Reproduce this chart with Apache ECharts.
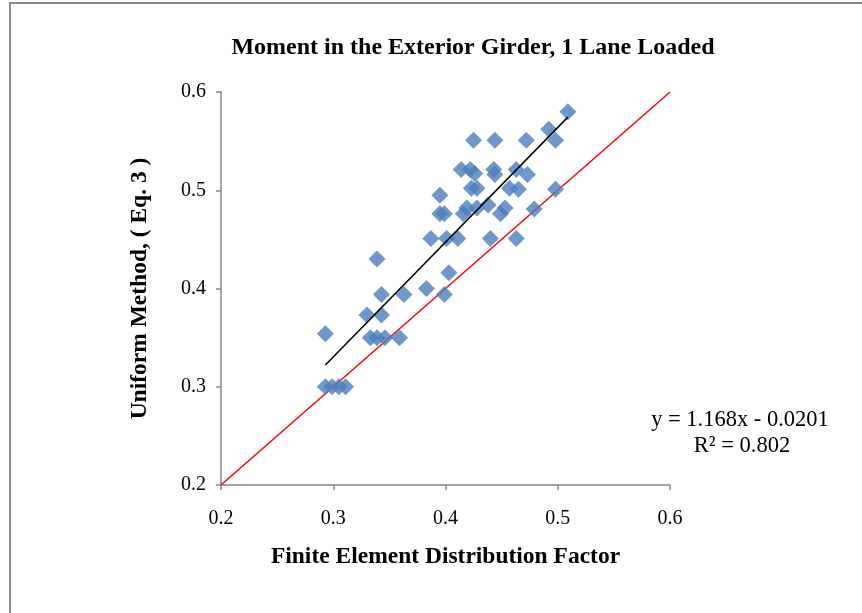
<!DOCTYPE html>
<html><head><meta charset="utf-8">
<script src="https://cdn.jsdelivr.net/npm/echarts@6/dist/echarts.min.js"></script>
<style>html,body{margin:0;padding:0;background:#fff}#c{width:862px;height:613px}</style>
</head><body><div id="c"></div>
<script>
var feValues = [0.293,0.293,0.299,0.305,0.311,0.333,0.339,0.346,0.359,0.330,0.343,0.343,0.363,0.339,0.383,0.399,0.403,0.387,0.401,0.411,0.440,0.463,0.395,0.399,0.416,0.419,0.428,0.438,0.449,0.453,0.479,0.395,0.423,0.428,0.457,0.465,0.498,0.414,0.422,0.426,0.443,0.444,0.463,0.473,0.425,0.444,0.472,0.498,0.492,0.509];
var umValues = [0.354,0.300,0.300,0.300,0.300,0.350,0.350,0.350,0.350,0.373,0.373,0.394,0.394,0.430,0.400,0.394,0.416,0.451,0.451,0.451,0.451,0.451,0.476,0.476,0.476,0.482,0.482,0.485,0.476,0.482,0.481,0.495,0.502,0.502,0.502,0.501,0.501,0.521,0.521,0.517,0.521,0.516,0.521,0.516,0.551,0.551,0.551,0.551,0.562,0.580];
var trendSlope = 1.168, trendIntercept = -0.0201;
var equalityLine = [0.2, 0.6];
var tickLabels = ['0.2','0.3','0.4','0.5','0.6'];

var pts = feValues.map(function(x,i){return [x, umValues[i]];});
var xmin = Math.min.apply(null, feValues), xmax = Math.max.apply(null, feValues);
var trend = [[xmin, trendSlope*xmin+trendIntercept],[xmax, trendSlope*xmax+trendIntercept]];
var serif = '"Liberation Serif","Times New Roman",serif';
var chart = echarts.init(document.getElementById('c'));
function axisBase(margin){
  return {
    type:'value', min:0.2, max:0.6, interval:0.1,
    axisLine:{show:true, lineStyle:{color:'#868686', width:1.5}},
    axisTick:{show:true, length:5, lineStyle:{color:'#868686', width:1.5}},
    splitLine:{show:false},
    axisLabel:{color:'#000', fontFamily:serif, fontSize:20, margin:margin,
      formatter:function(v){return tickLabels[Math.round((v-0.2)*10)];}}
  };
}
var nameStyle = {fontFamily:serif, fontWeight:'bold', fontSize:23.5, color:'#000'};
chart.setOption({
  animation:false,
  backgroundColor:'#fff',
  title:{text:'Moment in the Exterior Girder, 1 Lane Loaded', left:468, textAlign:'center', top:31,
    textStyle:{fontFamily:serif, fontWeight:'bold', fontSize:24, color:'#000'}},
  grid:{left:221, right:192, top:92, bottom:128},
  xAxis: Object.assign(axisBase(24), {name:'Finite Element Distribution Factor', nameLocation:'middle', nameGap:60, nameTextStyle:nameStyle}),
  yAxis: Object.assign(axisBase(15), {name:'Uniform Method, ( Eq. 3 )', nameLocation:'middle', nameGap:69, nameTextStyle:nameStyle}),
  graphic:[
    {type:'rect', shape:{x:10,y:3,width:900,height:700}, style:{fill:'none', stroke:'#8c8c8c', lineWidth:2}, z:-1},
    {type:'text', style:{text:'y = 1.168x - 0.0201', x:740, y:420, textAlign:'center', textVerticalAlign:'middle', font:'22.5px '+serif, fill:'#000'}},
    {type:'text', style:{text:'R² = 0.802', x:742, y:446, textAlign:'center', textVerticalAlign:'middle', font:'22.5px '+serif, fill:'#000'}}
  ],
  series:[
    {type:'line', data:[[equalityLine[0],equalityLine[0]],[equalityLine[1],equalityLine[1]]], symbol:'none',
      lineStyle:{color:'#ff0000', width:1.5}, z:1},
    {type:'scatter', data:pts, symbol:'diamond', symbolSize:[17,17], itemStyle:{color:'#4a7ebb'}, z:2},
    {type:'line', data:trend, symbol:'none', lineStyle:{color:'#000', width:1.5}, z:3}
  ]
});
</script></body></html>
